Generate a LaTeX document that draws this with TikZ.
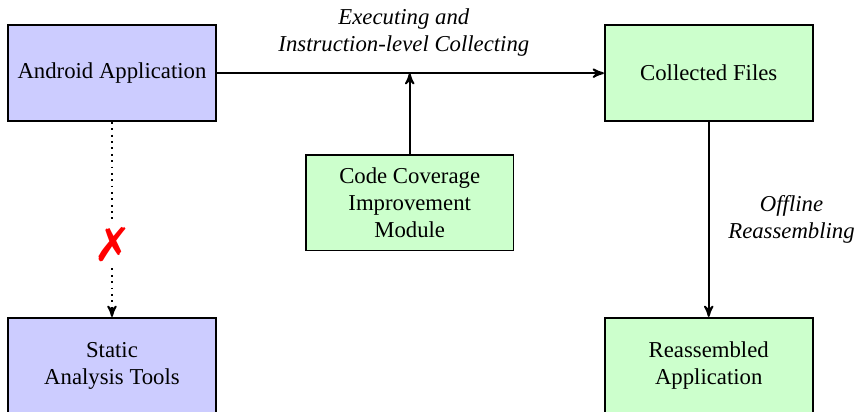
\documentclass[tikz,border=0pt]{standalone}
\usepackage{fontspec}
\setmainfont{Liberation Serif}
\usepackage{pifont}
\usetikzlibrary{arrows}

\begin{document}
\begin{tikzpicture}[>=stealth',auto,thick,
                    app node/.style={rectangle,draw,fill=blue!20,minimum width=3.21cm,
                                     minimum height=1.48cm,align=center,font=\normalsize},
                    mod node/.style={app node,fill=green!20}]
  \useasboundingbox (0,0) rectangle (13.21,-6.365);
  \node[app node] (android) at (1.73,-1.13) {Android Application};
  \node[app node] (static) [below of=android,node distance=4.52cm] {Static\\Analysis Tools};
  \node[mod node] (collected) [right of=android,node distance=9.22cm] {Collected Files};
  \node[mod node] (reassembled) [below of=collected,node distance=4.52cm] {Reassembled\\Application};
  \node[mod node] (coverage) at (6.33,-3.13) {Code Coverage\\Improvement\\Module};
  \path[every node/.style={font=\itshape,align=center}]
    (android) edge [->] node [above=3.6pt,xshift=-0.1cm] {Executing and\\Instruction-level Collecting} (collected)
    (collected) edge [->] node [right=4.9pt] {Offline\\Reassembling} (reassembled)
    (android) edge [->,dotted] node [auto=false,pos=0.63,fill=white,inner sep=1.5pt,font=\huge,text=red] {\ding{55}} (static)
    ;
  \draw[->] (coverage) -- (coverage |- android);
\end{tikzpicture}
\end{document}
